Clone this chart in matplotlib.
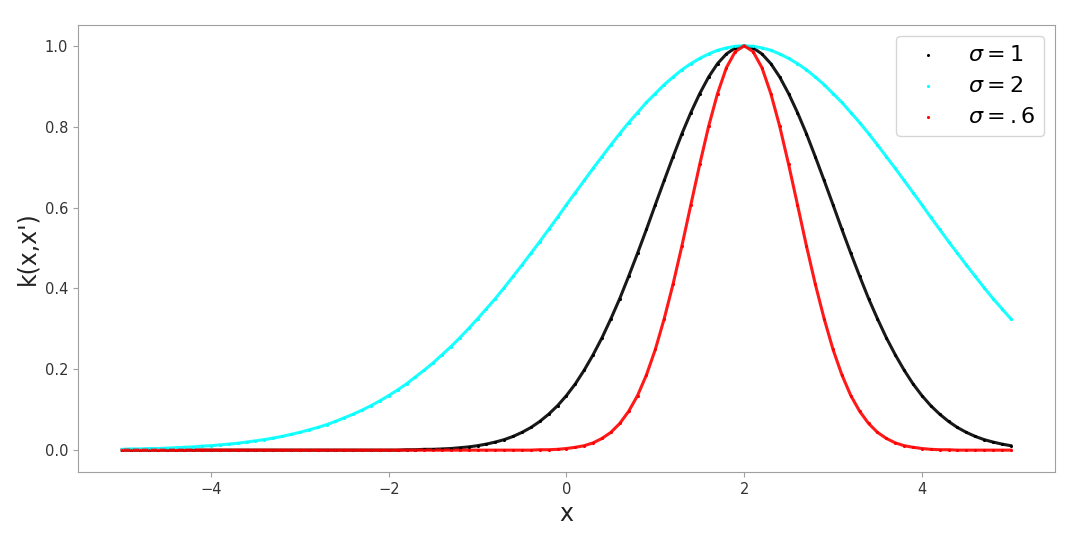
import matplotlib
matplotlib.use("Agg")
import matplotlib.pyplot as plt
import numpy as np

# Positions des points le long de l'axe x (pas de 0.1 entre -5 et 5)
x_vals = np.linspace(-5, 5, 101)

# k(x, x'), x' = 2
k_sigma1 = [0.0] * 32 + [
    0.001, 0.001, 0.002, 0.002, 0.003, 0.004, 0.006, 0.008, 0.011, 0.015,
    0.020, 0.026, 0.034, 0.044, 0.056, 0.071, 0.089, 0.110, 0.135, 0.164,
    0.198, 0.236, 0.278, 0.325, 0.375, 0.430, 0.487, 0.546, 0.607, 0.667,
    0.726, 0.783, 0.835, 0.882, 0.923, 0.956, 0.980, 0.995,
    1.000,
    0.995, 0.980, 0.956, 0.923, 0.882, 0.835, 0.783, 0.726, 0.667, 0.607,
    0.546, 0.487, 0.430, 0.375, 0.325, 0.278, 0.236, 0.198, 0.164, 0.135,
    0.110, 0.089, 0.071, 0.056, 0.044, 0.034, 0.026, 0.020, 0.015, 0.011]

k_sigma2 = [
    0.002, 0.003, 0.003, 0.004, 0.004, 0.005, 0.006, 0.007, 0.008, 0.010,
    0.011, 0.013, 0.015, 0.017, 0.020, 0.023, 0.026, 0.030, 0.034, 0.039,
    0.044, 0.050, 0.056, 0.063, 0.071, 0.080, 0.089, 0.099, 0.110, 0.122,
    0.135, 0.149, 0.164, 0.181, 0.198, 0.216, 0.236, 0.256, 0.278, 0.301,
    0.325, 0.350, 0.375, 0.402, 0.430, 0.458, 0.487, 0.516, 0.546, 0.576,
    0.607, 0.637, 0.667, 0.697, 0.726, 0.755, 0.783, 0.810, 0.835, 0.860,
    0.882, 0.904, 0.923, 0.941, 0.956, 0.969, 0.980, 0.989, 0.995, 0.999,
    1.000,
    0.999, 0.995, 0.989, 0.980, 0.969, 0.956, 0.941, 0.923, 0.904, 0.882,
    0.860, 0.835, 0.810, 0.783, 0.755, 0.726, 0.697, 0.667, 0.637, 0.607,
    0.576, 0.546, 0.516, 0.487, 0.458, 0.430, 0.402, 0.375, 0.350, 0.325]

k_sigma06 = [0.0] * 47 + [
    0.001, 0.001, 0.002, 0.004, 0.007, 0.011, 0.018, 0.029, 0.044, 0.066,
    0.096, 0.135, 0.186, 0.249, 0.325, 0.411, 0.506, 0.607, 0.707, 0.801,
    0.882, 0.946, 0.986,
    1.000,
    0.986, 0.946, 0.882, 0.801, 0.707, 0.607, 0.506, 0.411, 0.325, 0.249,
    0.186, 0.135, 0.096, 0.066, 0.044, 0.029, 0.018, 0.011, 0.007, 0.004,
    0.002, 0.001, 0.001, 0.0, 0.0, 0.0, 0.0, 0.0, 0.0, 0.0]

series = [
    (k_sigma1, 'black', r'$\sigma = 1$'),
    (k_sigma2, 'cyan', r'$\sigma = 2$'),
    (k_sigma06, 'red', r'$\sigma = .6$'),
]

fig = plt.figure(figsize=(10.8, 5.4), dpi=100)
ax = fig.add_axes([0.072, 0.126, 0.905, 0.828])

for y_vals, col, lab in series:
    ax.plot(x_vals, y_vals, '-', color=col, lw=2.2, alpha=0.9)
    ax.scatter(x_vals, y_vals, s=1.5, color=col, label=lab, zorder=3)

ax.set_xlim(-5.5, 5.5)
ax.set_ylim(-0.054, 1.052)
ax.set_xticks([-4, -2, 0, 2, 4])
ax.set_yticks([0.0, 0.2, 0.4, 0.6, 0.8, 1.0])

for sp in ax.spines.values():
    sp.set_color('#a0a0a0')
ax.tick_params(colors='#a0a0a0', labelcolor='#333333', labelsize=10.5)

ax.set_xlabel('x', fontsize=17, color='#222222')
ax.set_ylabel("k(x,x')", fontsize=17, color='#222222')

ax.legend(loc='upper right', fontsize=16, markerscale=1.0)

fig.savefig('out.png', dpi=100)
